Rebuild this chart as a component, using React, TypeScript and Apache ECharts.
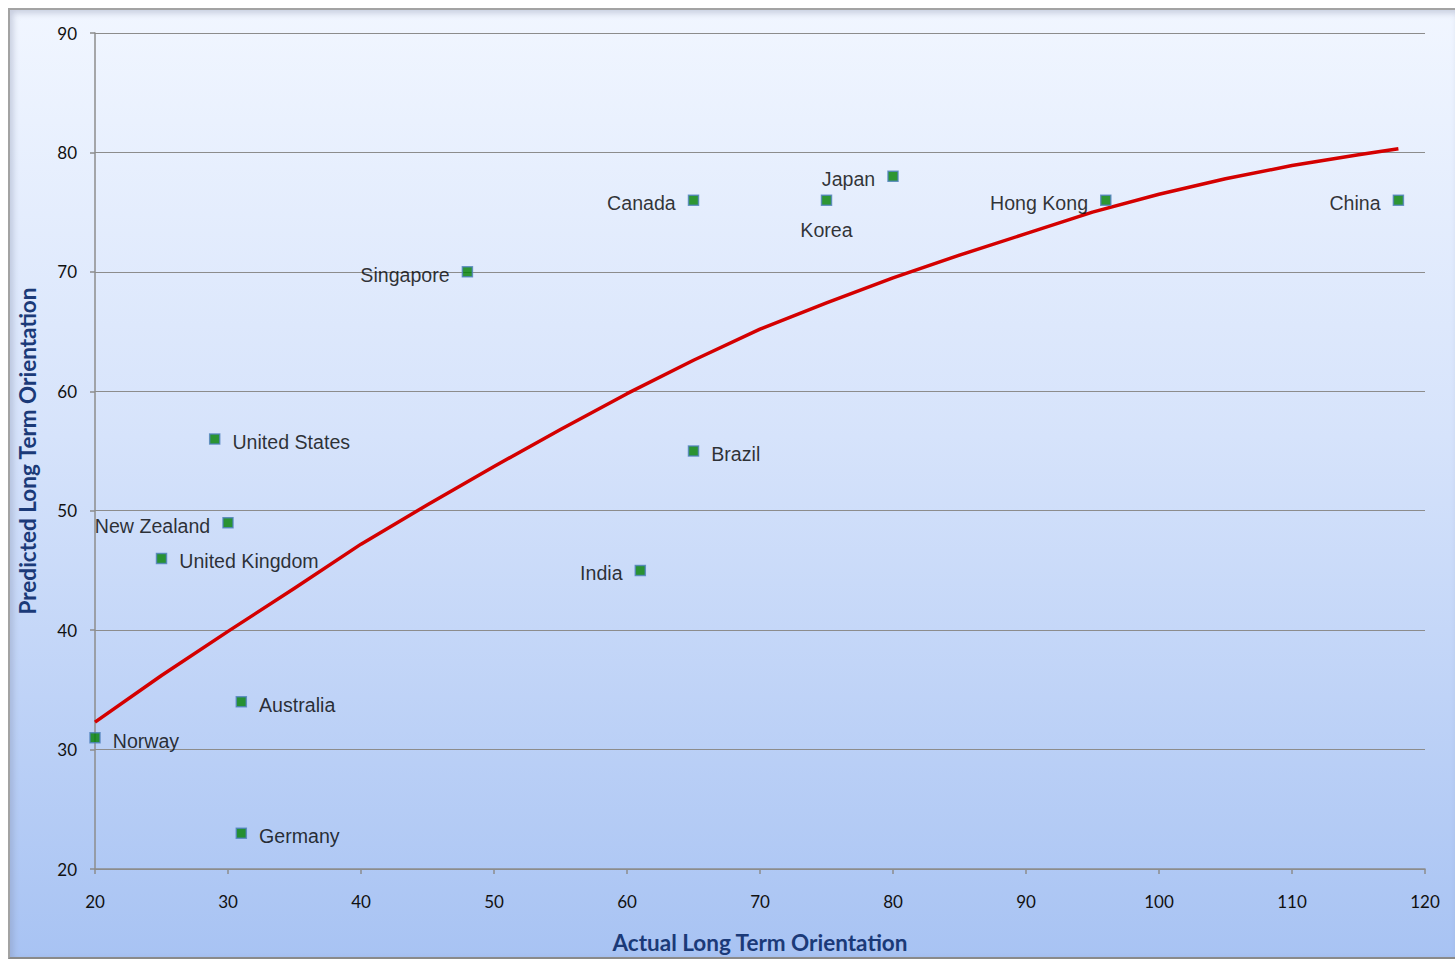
import React, { useEffect, useRef } from "react";
import * as echarts from "echarts";

const countries = ["Norway", "Germany", "Australia", "United Kingdom", "New Zealand", "United States", "Singapore", "India", "Brazil", "Canada", "Korea", "Japan", "Hong Kong", "China"];
const actual = [20, 31, 31, 25, 30, 29, 48, 61, 65, 65, 75, 80, 96, 118];
const predicted = [31, 23, 34, 46, 49, 56, 70, 45, 55, 76, 76, 78, 76, 76];
const labelSides = ["right", "right", "right", "right", "left", "right", "left", "left", "right", "left", "bottom", "left", "left", "left"];

const trendX = [20, 25, 30, 35, 40, 45, 50, 55, 60, 65, 70, 75, 80, 85, 90, 95, 100, 105, 110, 115, 118];
const trendY = [32.3, 36.2, 39.9, 43.5, 47.2, 50.5, 53.7, 56.8, 59.8, 62.6, 65.2, 67.4, 69.5, 71.4, 73.2, 75.0, 76.5, 77.8, 78.9, 79.8, 80.3];

const xTicks = { min: 20, max: 120, interval: 10 };
const yTicks = { min: 20, max: 90, interval: 10 };

export default function App() {
  const ref = useRef<HTMLDivElement>(null);
  useEffect(() => {
    if (!ref.current) return;
    const chart = echarts.init(ref.current, undefined, { renderer: "svg" });
    const tickFont = { fontFamily: "Lato", fontSize: 17, color: "#111" };
    const titleFont = { fontFamily: "Lato", fontSize: 22.5, fontWeight: "bold" as const, color: "#1b3a78" };
    chart.setOption({
      animation: false,
      backgroundColor: "transparent",
      grid: { left: 86, right: 30, top: 25, bottom: 89 },
      xAxis: {
        type: "value",
        min: xTicks.min,
        max: xTicks.max,
        interval: xTicks.interval,
        name: "Actual Long Term Orientation",
        nameLocation: "middle",
        nameGap: 62,
        nameTextStyle: titleFont,
        axisLine: { show: true, onZero: false, lineStyle: { color: "#8c8c8c", width: 1.5 } },
        axisTick: { show: true, length: 5, lineStyle: { color: "#8c8c8c", width: 1.5 } },
        axisLabel: { ...tickFont, margin: 24 },
        splitLine: { show: false },
      },
      yAxis: {
        type: "value",
        min: yTicks.min,
        max: yTicks.max,
        interval: yTicks.interval,
        name: "Predicted Long Term Orientation",
        nameLocation: "middle",
        nameGap: 56,
        nameRotate: 90,
        nameTextStyle: titleFont,
        axisLine: { show: true, onZero: false, lineStyle: { color: "#8c8c8c", width: 1.5 } },
        axisTick: { show: true, length: 5, lineStyle: { color: "#8c8c8c", width: 1.5 } },
        axisLabel: { ...tickFont, margin: 18 },
        splitLine: { show: true, lineStyle: { color: "#8c8c8c", width: 1.2 } },
      },
      series: [
        {
          type: "line",
          data: trendX.map((x, i) => [x, trendY[i]]),
          smooth: false,
          showSymbol: false,
          lineStyle: { color: "#d40000", width: 3.5, join: "round" },
          z: 2,
        },
        {
          type: "scatter",
          symbol: "rect",
          symbolSize: 10,
          itemStyle: { color: "#008000", borderColor: "#4f81bd", borderWidth: 1.5 },
          data: countries.map((c, i) => ({
            name: c,
            value: [actual[i], predicted[i]],
            label: {
              show: true,
              position: labelSides[i],
              distance: labelSides[i] === "bottom" ? 14 : 12,
              offset: labelSides[i] === "bottom" ? [0, 0] : [0, 3],
              formatter: c,
              fontFamily: "Liberation Sans",
              fontSize: 19.6,
              color: "#000",
            },
          })),
          z: 3,
        },
      ],
    });
    return () => chart.dispose();
  }, []);
  return (
    <div
      style={{
        position: "absolute",
        left: 8,
        top: 8,
        width: 1447,
        height: 951,
        boxSizing: "border-box",
        borderTop: "2px solid #a3a3a3",
        borderLeft: "2px solid #a3a3a3",
        borderBottom: "2px solid #8a8a8a",
        background: "linear-gradient(to bottom, #f1f6ff 0%, #d6e3fb 45%, #a8c3f3 100%)",
        boxShadow: "inset 3px 3px 6px rgba(120,130,160,0.35)",
      }}
    >
      <div ref={ref} style={{ position: "absolute", left: -2, top: -2, width: 1447, height: 951 }} />
    </div>
  );
}
